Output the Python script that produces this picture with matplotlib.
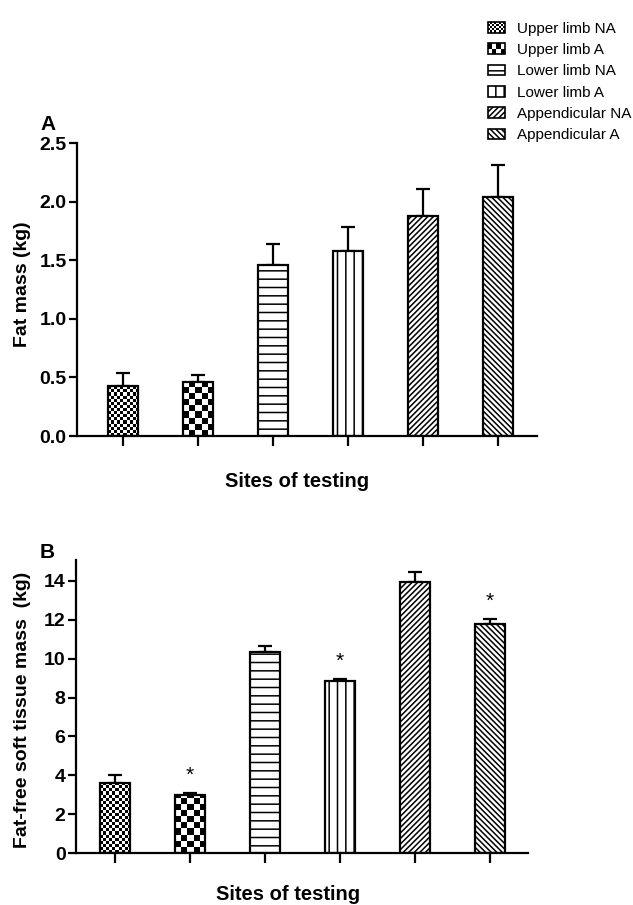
import matplotlib
matplotlib.use('Agg')
import matplotlib.pyplot as plt
import numpy as np
from matplotlib.patches import Patch, Rectangle
from matplotlib.legend_handler import HandlerBase
from matplotlib.ticker import FormatStrFormatter

plt.rcParams['font.family'] = ['Liberation Sans', 'DejaVu Sans']
plt.rcParams['hatch.linewidth'] = 1.1

groups = ['Upper limb NA', 'Upper limb A', 'Lower limb NA',
          'Lower limb A', 'Appendicular NA', 'Appendicular A']

# panel A: fat mass (kg), mean and upper SEM
fat_mean = [0.43, 0.46, 1.46, 1.58, 1.88, 2.04]
fat_sem = [0.11, 0.06, 0.18, 0.20, 0.23, 0.27]

# panel B: fat-free soft tissue mass (kg)
ffm_mean = [3.6, 2.98, 10.35, 8.85, 13.95, 11.78]
ffm_sem = [0.40, 0.12, 0.30, 0.10, 0.50, 0.25]
ffm_signif = [False, True, False, True, False, True]

# checker size (columns across a bar) or hatch string per group
fills = [('checker', 10), ('checker', 5), ('hatch', '--'),
         ('hatch', '||'), ('hatch', '//////'), ('hatch', '\\\\\\\\\\\\')]


def checker(rows, cols):
    return np.add.outer(np.arange(rows), np.arange(cols)) % 2


class CheckerHandler(HandlerBase):
    def __init__(self, ncols):
        super().__init__()
        self.ncols = ncols

    def create_artists(self, legend, orig_handle, xdescent, ydescent,
                       width, height, fontsize, trans):
        x0, y0 = -xdescent, -ydescent
        nrows = max(1, int(round(self.ncols * height / width)))
        dx, dy = width / self.ncols, height / nrows
        arts = [Rectangle((x0, y0), width, height, facecolor='white',
                          edgecolor='none', transform=trans)]
        pat = checker(nrows, self.ncols)
        for r in range(nrows):
            for c in range(self.ncols):
                if pat[r, c]:
                    arts.append(Rectangle((x0 + c * dx, y0 + r * dy), dx, dy,
                                          facecolor='black', edgecolor='none',
                                          transform=trans))
        arts.append(Rectangle((x0, y0), width, height, facecolor='none',
                              edgecolor='black', lw=1.2, transform=trans))
        return arts


def draw_panel(ax, means, sems, xlim, ylim, yticks):
    x = np.arange(len(means))
    hatches = [f[1] if f[0] == 'hatch' else None for f in fills]
    ax.errorbar(x, means, yerr=[np.zeros(len(sems)), sems], fmt='none',
                ecolor='black', elinewidth=1.6, capsize=5, capthick=1.6,
                zorder=1)
    bars = ax.bar(x, means, width=0.41, facecolor='none', edgecolor='black',
                  linewidth=1.6, hatch=hatches, zorder=3)
    ax.set_xlim(*xlim)
    ax.set_ylim(*ylim)
    # white under every bar so the error bar is hidden inside it
    ax.bar(x, means, width=0.41, color='white', linewidth=0, zorder=2)
    for b, f in zip(bars, fills):
        if f[0] != 'checker':
            continue
        ext = b.get_window_extent()
        ncols = f[1]
        cell_h = b.get_height() * (ext.width / ncols) / ext.height
        nrows = int(np.ceil(b.get_height() / cell_h))
        im = ax.imshow(checker(nrows, ncols), cmap='gray_r', vmin=0, vmax=1,
                       extent=(b.get_x(), b.get_x() + b.get_width(),
                               0, nrows * cell_h),
                       origin='lower', interpolation='nearest', aspect='auto',
                       zorder=2.5)
        im.set_clip_path(b)
    ax.set_xlim(*xlim)
    ax.set_ylim(*ylim)
    ax.set_xticks(x)
    ax.set_xticklabels([])
    ax.set_yticks(yticks)
    ax.tick_params(axis='both', direction='out', width=1.6, length=6,
                   labelsize=14, pad=1.5)
    ax.tick_params(axis='x', length=7)
    for lab in ax.get_yticklabels():
        lab.set_fontweight('bold')
    for s in ['top', 'right']:
        ax.spines[s].set_visible(False)
    for s in ['left', 'bottom']:
        ax.spines[s].set_linewidth(1.6)
    return bars


W, H = 633, 905
fig = plt.figure(figsize=(W / 100, H / 100), dpi=100)

ax_a = fig.add_axes([77 / W, 1 - 436 / H, 460 / W, 293 / H])
draw_panel(ax_a, fat_mean, fat_sem, (-0.613, 5.52), (0, 2.5),
           np.arange(0, 2.51, 0.5))
ax_a.yaxis.set_major_formatter(FormatStrFormatter('%.1f'))

ax_b = fig.add_axes([76 / W, 1 - 853 / H, 452 / W, 293 / H])
draw_panel(ax_b, ffm_mean, ffm_sem, (-0.52, 5.507), (0, 15.08),
           np.arange(0, 15, 2))

for i, sig in enumerate(ffm_signif):
    if sig:
        ax_b.annotate('*', (i, ffm_mean[i] + ffm_sem[i]), xytext=(0, 6),
                      textcoords='offset points', ha='center', va='bottom',
                      fontsize=15)

# axis titles
fig.text(23 / W, 1 - 284 / H, 'Fat mass (kg)', rotation=90, fontsize=14,
         fontweight='bold', ha='center', va='center')
fig.text(23 / W, 1 - 710 / H, 'Fat-free soft tissue mass  (kg)', rotation=90,
         fontsize=14, fontweight='bold', ha='center', va='center')
fig.text(297 / W, 1 - 487 / H, 'Sites of testing', fontsize=14.5,
         fontweight='bold', ha='center', va='baseline')
fig.text(288 / W, 1 - 900 / H, 'Sites of testing', fontsize=14.5,
         fontweight='bold', ha='center', va='baseline')

fig.text(40 / W, 1 - 125 / H, 'A', fontsize=15, fontweight='bold',
         va='center')
fig.text(40 / W, 1 - 553 / H, 'B', fontsize=15, fontweight='bold',
         va='center')

handles = []
handler_map = {}
for g, f in zip(groups, fills):
    if f[0] == 'hatch':
        h = Patch(facecolor='white', edgecolor='black', hatch=f[1], lw=1.2)
    else:
        h = Patch(facecolor='white', edgecolor='black')
        handler_map[h] = CheckerHandler(8 if f[1] > 6 else 4)
    handles.append(h)

fig.legend(handles, groups, handler_map=handler_map, loc='upper left',
           bbox_to_anchor=(480 / W, 1 - 14 / H), frameon=False,
           fontsize=11, handlelength=1.15, handleheight=0.7,
           labelspacing=0.48, handletextpad=0.8, borderpad=0)

fig.savefig('out.png', dpi=100)
